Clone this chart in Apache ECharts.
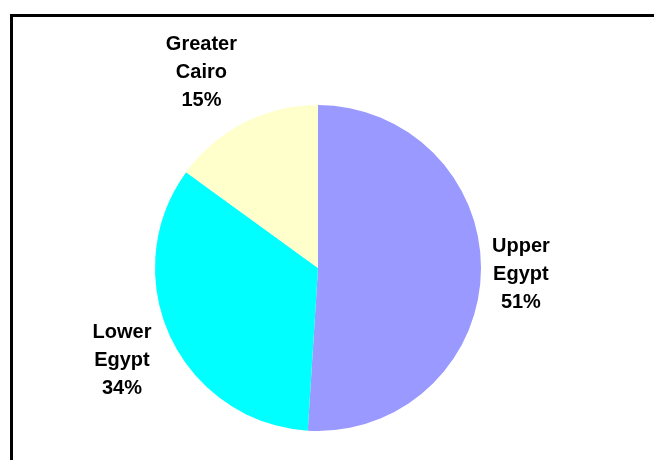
<!DOCTYPE html>
<html>
<head>
<meta charset="utf-8">
<script src="https://cdn.jsdelivr.net/npm/echarts@6/dist/echarts.min.js"></script>
<style>
html, body { margin: 0; padding: 0; width: 654px; height: 460px; overflow: hidden; background: #fff; }
#frame { position: absolute; left: 10px; top: 14px; width: 720px; height: 520px; border: 3px solid #000; box-sizing: border-box; }
#chart { position: absolute; left: 0; top: 0; width: 654px; height: 460px; }
</style>
</head>
<body>
<div id="frame"></div>
<div id="chart"></div>
<script>
// Data
const categories = ['Upper Egypt', 'Lower Egypt', 'Greater Cairo'];
const values = [51, 34, 15];
const colors = ['#9999FF', '#00FFFF', '#FFFFCC'];

// Layout settings
const CX = 318, CY = 268, R = 163, GAP = 11, MIN_TOP = 30;
const total = values.reduce((a, b) => a + b, 0);

function midDir(i) {
  let cum = 0;
  for (let k = 0; k < i; k++) cum += values[k];
  const a = (cum + values[i] / 2) / total * 2 * Math.PI;
  return [Math.sin(a), -Math.cos(a)];
}
function boxDist(cx, cy, hw, hh) {
  const ex = Math.max(0, Math.abs(cx) - hw);
  const ey = Math.max(0, Math.abs(cy) - hh);
  return Math.hypot(ex, ey);
}

const chart = echarts.init(document.getElementById('chart'), null, { renderer: 'canvas' });
chart.setOption({
  backgroundColor: 'transparent',
  animation: false,
  series: [{
    type: 'pie',
    center: [CX, CY],
    radius: R,
    startAngle: 90,
    clockwise: true,
    avoidLabelOverlap: false,
    data: categories.map((name, i) => ({ name: name, value: values[i], itemStyle: { color: colors[i] } })),
    itemStyle: { borderWidth: 0 },
    label: {
      show: true,
      position: 'outside',
      formatter: p => p.name.replace(' ', '\n') + '\n' + Math.round(p.percent) + '%',
      fontFamily: 'Liberation Sans, Arial, sans-serif',
      fontWeight: 'bold',
      fontSize: 20,
      lineHeight: 28,
      color: '#000',
      align: 'center'
    },
    labelLine: { show: false },
    emphasis: { disabled: true },
    labelLayout: function (p) {
      const hw = p.labelRect.width / 2, hh = p.labelRect.height / 2;
      const d = midDir(p.dataIndex);
      const D = R + GAP;
      let lo = 0, hi = 1000;
      for (let n = 0; n < 60; n++) {
        const m = (lo + hi) / 2;
        if (boxDist(m * d[0], m * d[1], hw, hh) < D) lo = m; else hi = m;
      }
      let x = lo * d[0], y = lo * d[1];
      if (CY + y - hh < MIN_TOP) {
        y = MIN_TOP + hh - CY;
        const s = d[0] < 0 ? -1 : 1;
        lo = 0; hi = 1000;
        for (let n = 0; n < 60; n++) {
          const m = (lo + hi) / 2;
          if (boxDist(m * s, y, hw, hh) < D) lo = m; else hi = m;
        }
        x = lo * s;
      }
      return { x: CX + x, y: CY + y, align: 'center', verticalAlign: 'middle' };
    }
  }]
});
</script>
</body>
</html>
